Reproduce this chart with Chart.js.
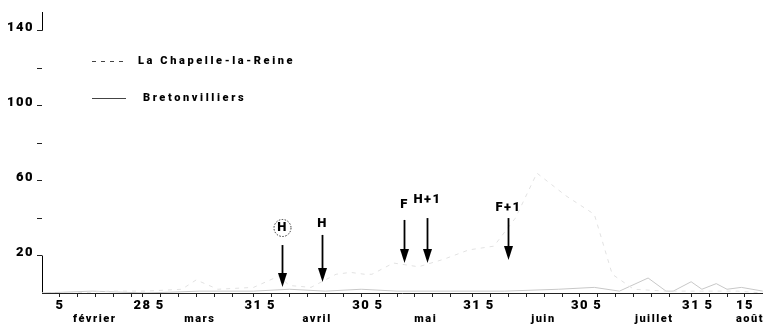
<!DOCTYPE html>
<html>
<head>
<meta charset="utf-8">
<script src="https://cdn.jsdelivr.net/npm/chart.js@4.4.0/dist/chart.umd.min.js"></script>
<style>
  html, body { margin: 0; padding: 0; background: #fff; }
  #wrap { width: 765px; height: 324px; }
</style>
</head>
<body>
<div id="wrap"><canvas id="chart"></canvas></div>
<script>
// x = jour de l'année (32 = 1er février)
const chapelleDays = [31, 40, 50, 60, 70, 74, 80, 90, 97, 100, 106, 113, 117, 121, 123, 129, 136, 143, 150, 157, 163, 169, 177, 185, 190, 196, 205, 215, 225, 232];
const chapelleValues = [0, 0, 1, 1, 2, 7, 2, 3, 9, 4, 3, 10, 11, 10, 10, 16, 14, 18, 23, 25, 40, 64, 52, 42, 10, 2, 1, 1, 1, 0];

const bretonDays = [31, 45, 60, 75, 90, 100, 110, 120, 130, 145, 160, 175, 185, 192, 200, 205, 207, 212, 215, 219, 222, 226, 232];
const bretonValues = [0, 1, 0, 1, 1, 2, 1, 2, 1, 1, 1, 2, 3, 1, 8, 1, 1, 6, 2, 5, 2, 3, 1];

const dayTicks = [36, 59, 64, 90, 95, 120, 125, 151, 156, 181, 186, 212, 217, 227];
const dayLabels = ['5', '28', '5', '31', '5', '30', '5', '31', '5', '30', '5', '31', '5', '15'];
const minorTicks = [41, 46, 51, 56, 69, 74, 79, 84, 100, 105, 110, 115, 130, 135, 140, 145, 161, 166, 171, 176, 191, 196, 201, 206, 222];

const monthDays = [45.7, 75, 107.7, 138, 170.8, 201.7, 228.4];
const monthNames = ['février', 'mars', 'avril', 'mai', 'juin', 'juillet', 'août'];

const yLabelled = [20, 60, 100, 140];
const yAxisSegments = [[0, 20], [140, 150]];

// flèches des traitements
const arrowDays = [98, 109, 132, 138.3, 161];
const arrowNames = ['H', 'H', 'F', 'H+1', 'F+1'];
const arrowCircled = [true, false, false, false, false];
const arrowTail = [25.6, 31, 39, 40, 40];
const arrowTip = [3.2, 5.9, 16, 16, 17.6];
const arrowLabelAt = [34.7, 36.8, 47, 49.7, 45.4];

const FONT = 'Roboto, Lato, "DejaVu Sans", sans-serif';
const INK = '#000';

const toPoints = (days, vals) => days.map((d, i) => ({ x: d, y: vals[i] }));

const allXTicks = [...dayTicks, ...minorTicks].sort((a, b) => a - b);

const spacing = {
  id: 'spacing',
  beforeDraw(chart) { chart.ctx.letterSpacing = '1.5px'; }
};

const yAxisLine = {
  id: 'yAxisLine',
  beforeDatasetsDraw(chart) {
    const { ctx, chartArea } = chart;
    const ys = chart.scales.y;
    ctx.save();
    ctx.strokeStyle = INK;
    ctx.lineWidth = 1;
    yAxisSegments.forEach(([a, b]) => {
      ctx.beginPath();
      ctx.moveTo(chartArea.left + 0.5, ys.getPixelForValue(a));
      ctx.lineTo(chartArea.left + 0.5, ys.getPixelForValue(b));
      ctx.stroke();
    });
    ctx.restore();
  }
};

const arrows = {
  id: 'arrows',
  afterDatasetsDraw(chart) {
    const { ctx } = chart;
    const xs = chart.scales.x, ys = chart.scales.y;
    ctx.save();
    ctx.strokeStyle = INK;
    ctx.fillStyle = INK;
    arrowDays.forEach((d, i) => {
      const px = Math.round(xs.getPixelForValue(d)) + 0.5;
      const top = ys.getPixelForValue(arrowTail[i]);
      const tip = ys.getPixelForValue(arrowTip[i]);
      ctx.lineWidth = 1.8;
      ctx.beginPath();
      ctx.moveTo(px, top);
      ctx.lineTo(px, tip - 10);
      ctx.stroke();
      ctx.beginPath();
      ctx.moveTo(px - 4.5, tip - 14);
      ctx.lineTo(px + 4.5, tip - 14);
      ctx.lineTo(px, tip);
      ctx.closePath();
      ctx.fill();

      const ly = ys.getPixelForValue(arrowLabelAt[i]);
      ctx.font = '900 13px ' + FONT;
      ctx.letterSpacing = '1.5px';
      ctx.textAlign = 'center';
      ctx.textBaseline = 'middle';
      ctx.fillText(arrowNames[i], px, ly);
      if (arrowCircled[i]) {
        ctx.lineWidth = 0.8;
        ctx.setLineDash([1.5, 1.5]);
        ctx.beginPath();
        ctx.arc(px, ly, 8.5, 0, Math.PI * 2);
        ctx.stroke();
        ctx.setLineDash([]);
      }
    });
    ctx.restore();
  }
};

const sideLegend = {
  id: 'sideLegend',
  afterDraw(chart) {
    const { ctx, chartArea } = chart;
    const rows = [61, 98];
    ctx.save();
    chart.data.datasets.forEach((ds, i) => {
      const y = rows[i] + 0.5;
      const x0 = chartArea.left + 50;
      ctx.strokeStyle = '#444';
      ctx.lineWidth = 1;
      ctx.setLineDash(ds.borderDash || []);
      ctx.beginPath();
      ctx.moveTo(x0, y);
      ctx.lineTo(x0 + 34, y);
      ctx.stroke();
      ctx.setLineDash([]);
      ctx.fillStyle = INK;
      ctx.font = '900 11px ' + FONT;
      ctx.letterSpacing = '2.6px';
      ctx.textAlign = 'left';
      ctx.textBaseline = 'middle';
      ctx.fillText(ds.label, x0 + (i === 0 ? 46 : 51), y);
    });
    ctx.restore();
  }
};

new Chart(document.getElementById('chart'), {
  type: 'line',
  data: {
    datasets: [
      {
        label: 'La Chapelle-la-Reine',
        data: toPoints(chapelleDays, chapelleValues),
        borderColor: '#e2e2e2',
        borderWidth: 1,
        borderDash: [4, 5],
        pointRadius: 0,
        tension: 0
      },
      {
        label: 'Bretonvilliers',
        data: toPoints(bretonDays, bretonValues),
        borderColor: '#c8c8c8',
        borderWidth: 1,
        pointRadius: 0,
        tension: 0
      }
    ]
  },
  options: {
    responsive: true,
    maintainAspectRatio: false,
    animation: false,
    layout: { padding: { top: 12, right: 0, left: 0, bottom: 0 } },
    plugins: {
      legend: { display: false },
      tooltip: { enabled: false }
    },
    scales: {
      x: {
        type: 'linear',
        min: 31,
        max: 232,
        border: { display: true, color: '#222', width: 1 },
        grid: { drawOnChartArea: false, drawTicks: true, tickLength: 4, color: '#222' },
        afterBuildTicks: s => { s.ticks = allXTicks.map(v => ({ value: v })); },
        afterFit: s => { s.height = 16; },
        ticks: {
          autoSkip: false,
          maxRotation: 0,
          padding: 1,
          color: INK,
          font: { family: FONT, size: 13, weight: '900' },
          callback: v => {
            const k = dayTicks.indexOf(v);
            return k >= 0 ? dayLabels[k] : '';
          }
        }
      },
      x2: {
        type: 'linear',
        position: 'bottom',
        weight: 1,
        min: 31,
        max: 232,
        border: { display: false },
        grid: { display: false, drawTicks: false },
        afterBuildTicks: s => { s.ticks = monthDays.map(v => ({ value: v })); },
        afterFit: s => { s.height = 15; },
        ticks: {
          autoSkip: false,
          maxRotation: 0,
          padding: 4,
          color: INK,
          font: { family: FONT, size: 11, weight: '900' },
          callback: (v, i) => monthNames[i]
        }
      },
      y: {
        min: 0,
        max: 150,
        border: { display: false },
        grid: { drawOnChartArea: false, drawTicks: true, tickLength: 5, color: '#222' },
        afterFit: s => { s.width = 42; },
        ticks: {
          stepSize: 20,
          padding: 3,
          labelOffset: -3,
          color: INK,
          font: { family: FONT, size: 13, weight: '900' },
          callback: v => (v === 0 || v > 140) ? null : (yLabelled.includes(v) ? String(v) : '')
        }
      }
    }
  },
  plugins: [spacing, yAxisLine, arrows, sideLegend]
});
</script>
</body>
</html>
